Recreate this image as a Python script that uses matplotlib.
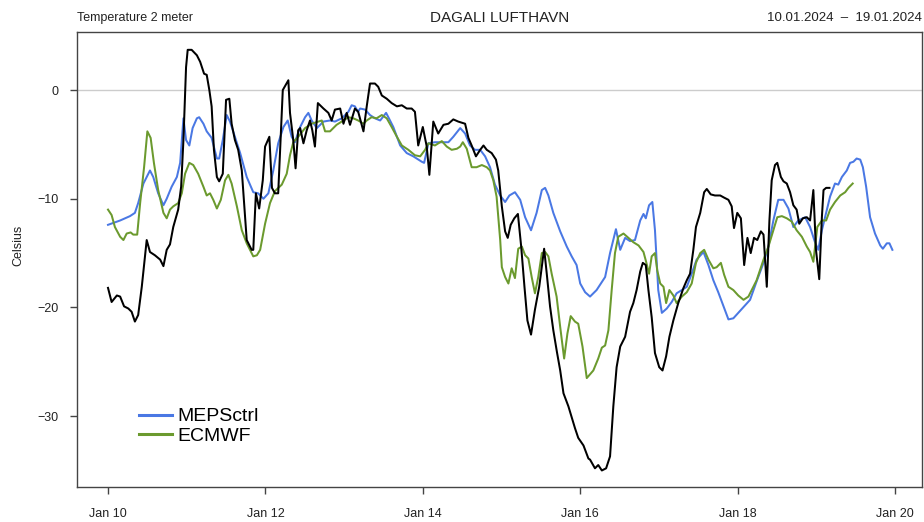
import matplotlib
matplotlib.use("Agg")
import matplotlib.pyplot as plt

plt.rcParams['font.family'] = ['Liberation Sans', 'DejaVu Sans']

# Hours since 10.01.2024 00:00 and temperatures (Celsius)
obs_hours = [0, 1.1, 2.7, 3.7, 4.9, 6.2, 7.2, 8.2, 9.2, 10.3, 11.8, 12.8, 14.3, 15.9, 16.9, 17.9,
             18.9, 19.9, 21.4, 22.3, 23.0, 23.8, 24.3, 25.5, 27.1, 28.1, 29.3, 30.1, 30.9, 31.6,
             32.3, 33.2, 33.9, 35.0, 36.0, 37.0, 37.7, 38.7, 39.7, 40.8, 42.3, 43.8, 44.3, 45.1,
             46.1, 47.2, 47.9, 49.2, 50.0, 50.9, 51.9, 53.3, 55.0, 55.5, 56.5, 57.2, 58.0, 58.6,
             59.6, 60.6, 61.6, 62.3, 63.1, 64.0, 65.7, 67.2, 68.2, 69.2, 70.8, 71.8, 72.8, 73.8,
             75.3, 76.3, 77.9, 78.9, 79.9, 81.4, 82.4, 83.5, 85.0, 86.5, 88.1, 89.6, 91.1, 92.6,
             93.6, 94.6, 96.0, 97.2, 98.0, 99.2, 100.7, 102.3, 103.8, 105.3, 106.8, 108.9, 109.9,
             110.9, 112.2, 113.5, 114.5, 115.5, 117.0, 118.3, 119.0, 120.1, 121.1, 121.9, 122.8,
             123.9, 125.0, 126.0, 127.0, 127.9, 129.0, 130.2, 131.5, 133.0, 133.8, 134.8, 135.8,
             136.9, 137.9, 138.9, 140.4, 141.4, 142.4, 143.4, 145.0, 146.5, 147.0, 148.5, 149.5,
             150.6, 151.9, 153.1, 154.1, 155.1, 156.2, 157.7, 159.2, 160.2, 161.2, 162.3, 163.1,
             164.0, 164.8, 165.8, 166.8, 168.1, 169.1, 170.2, 171.2, 172.4, 173.9, 175.5, 176.5,
             177.5, 178.5, 179.3, 180.6, 181.8, 182.6, 183.8, 185.1, 186.7, 187.9, 189.2, 190.2,
             190.9, 191.9, 193.0, 194.0, 195.0, 196.0, 197.0, 198.0, 199.1, 199.9, 200.9, 201.7,
             202.4, 203.4, 204.1, 205.2, 206.0, 207.0, 208.0, 209.0, 210.0, 210.8, 211.9, 213.1,
             214.1, 215.1, 215.9, 216.9, 217.7, 218.2, 219.0, 220.0]
obs_temp = [-18.2, -19.5, -18.9, -19.0, -19.9, -20.1, -20.4, -21.3, -20.7, -18.1, -13.8, -14.9,
            -15.2, -15.6, -16.2, -14.7, -14.2, -12.6, -11.0, -8.9, -4.6, 2.1, 3.7, 3.7, 3.2, 2.6,
            1.5, 1.4, 0.0, -1.5, -5.5, -8.0, -8.4, -7.7, -0.9, -0.8, -3.1, -4.6, -5.5, -7.4, -13.8,
            -14.7, -14.7, -9.5, -10.9, -8.3, -5.2, -4.3, -9.0, -9.5, -9.5, 0.0, 0.9, -2.1, -4.6,
            -7.2, -3.7, -3.5, -4.9, -3.7, -2.8, -3.7, -5.2, -1.2, -1.7, -2.1, -2.8, -1.8, -1.7,
            -3.1, -2.1, -3.2, -1.7, -2.0, -3.8, -1.5, 0.6, 0.6, 0.3, -0.5, -0.8, -1.2, -1.5, -1.4,
            -1.7, -1.7, -2.0, -5.1, -3.4, -5.2, -7.8, -2.9, -4.0, -3.2, -3.1, -2.7, -2.9, -3.1,
            -4.4, -5.1, -6.1, -5.5, -5.1, -5.5, -5.8, -6.4, -7.4, -10.7, -13.0, -13.6, -12.4,
            -11.8, -11.4, -14.4, -18.1, -21.2, -22.5, -20.2, -18.1, -14.6, -16.9, -19.9, -22.1,
            -24.1, -25.8, -27.9, -29.1, -30.1, -31.1, -32.0, -32.7, -33.9, -34.0, -34.8, -34.5,
            -35.0, -34.8, -33.7, -29.1, -25.5, -23.6, -22.7, -20.4, -19.6, -18.4, -16.7, -15.9,
            -16.1, -18.4, -20.9, -24.2, -25.5, -25.8, -24.5, -22.7, -21.2, -19.6, -18.2, -17.5,
            -16.9, -14.7, -12.6, -11.3, -9.4, -9.1, -9.6, -9.7, -9.7, -9.9, -10.1, -10.7, -12.7,
            -11.3, -11.8, -16.1, -13.6, -15.0, -13.6, -13.8, -13.0, -13.3, -18.1, -12.0, -8.3,
            -6.9, -6.7, -8.0, -8.4, -8.6, -9.4, -10.6, -11.0, -12.3, -11.8, -11.7, -12.0, -9.2,
            -14.7, -17.4, -11.7, -9.2, -9.0, -9.0]

meps_hours = [0, 3.7, 6.7, 8.2, 9.2, 10.8, 12.8, 13.8, 15.3, 16.9, 17.9, 19.4, 21.0, 22.0, 23.0,
              23.8, 24.8, 25.8, 27.1, 27.8, 29.1, 30.1, 31.6, 33.2, 33.9, 35.0, 36.2, 37.2, 38.7,
              40.3, 42.3, 44.3, 45.8, 47.4, 48.9, 50.4, 51.9, 53.5, 54.8, 56.0, 57.0, 58.6, 60.1,
              61.1, 62.1, 63.7, 65.7, 67.7, 69.2, 71.3, 73.3, 74.3, 75.3, 76.2, 76.9, 78.4, 79.9,
              81.4, 83.0, 84.8, 85.5, 87.0, 89.1, 91.1, 93.1, 95.7, 96.4, 97.7, 99.7, 103.8, 105.3,
              107.4, 108.9, 110.4, 111.9, 113.5, 115.0, 116.5, 118.0, 119.6, 121.1, 122.4, 124.1,
              125.7, 127.2, 129.0, 130.7, 132.3, 133.3, 134.3, 135.8, 137.9, 139.9, 141.4, 142.9,
              144.0, 145.5, 147.0, 149.0, 151.6, 153.1, 154.9, 156.2, 157.7, 159.2, 160.7, 162.3,
              163.3, 164.0, 165.0, 166.0, 166.8, 167.8, 168.9, 170.4, 171.9, 173.4, 175.0, 176.5,
              178.0, 179.5, 181.6, 183.1, 184.6, 186.1, 187.7, 189.2, 190.7, 192.2, 194.3, 195.8,
              197.8, 199.9, 201.4, 202.9, 204.4, 206.0, 207.5, 209.0, 210.5, 212.6, 214.1, 215.6,
              216.6, 217.7, 219.0, 220.2, 221.7, 222.7, 223.8, 225.3, 226.3, 227.3, 228.3, 229.4,
              230.2, 231.2, 232.4, 233.9, 235.5, 236.3, 237.5, 238.3, 239.2]
meps_temp = [-12.4, -12.0, -11.6, -11.3, -10.4, -8.6, -7.4, -8.0, -9.5, -10.6, -10.0, -8.9, -8.0,
             -6.7, -2.6, -4.6, -5.1, -3.5, -2.6, -2.5, -3.1, -3.8, -4.4, -6.3, -6.3, -4.6, -2.3,
             -2.9, -4.3, -5.8, -8.0, -9.4, -9.5, -10.0, -9.5, -7.4, -4.9, -3.4, -2.8, -4.3, -4.8,
             -3.4, -2.5, -2.1, -2.8, -3.5, -2.9, -2.8, -2.9, -2.6, -2.0, -1.4, -1.5, -2.0, -1.7,
             -1.8, -2.3, -2.6, -2.8, -2.1, -2.5, -3.4, -5.1, -5.8, -6.1, -6.6, -6.7, -4.9, -4.8,
             -4.8, -4.3, -3.5, -4.0, -5.1, -5.5, -5.5, -6.1, -7.1, -8.7, -9.7, -10.3, -9.7, -9.4,
             -10.1, -11.7, -12.9, -11.3, -9.2, -9.0, -9.7, -11.3, -13.0, -14.4, -15.3, -16.1,
             -17.8, -18.6, -19.0, -18.4, -17.2, -15.0, -12.8, -14.7, -13.6, -13.9, -13.8, -12.0,
             -11.4, -11.8, -10.6, -10.3, -12.9, -18.4, -20.5, -20.1, -19.5, -18.7, -18.4, -18.1,
             -16.9, -15.6, -14.9, -16.1, -17.5, -18.6, -19.9, -21.1, -21.0, -20.5, -19.8, -19.3,
             -17.6, -15.9, -14.4, -12.0, -10.1, -10.1, -10.9, -12.6, -12.0, -11.7, -12.6, -14.0,
             -14.7, -12.9, -11.3, -9.8, -8.6, -8.7, -8.0, -7.4, -6.7, -6.6, -6.3, -6.4, -7.1,
             -8.9, -11.7, -13.2, -14.3, -14.6, -14.1, -14.1, -14.7]

ec_hours = [0, 1.1, 2.1, 3.7, 4.7, 5.7, 6.9, 7.7, 8.9, 9.8, 11.0, 12.0, 13.0, 14.0, 15.3, 16.9,
            17.9, 18.9, 19.9, 21.4, 22.5, 23.5, 24.8, 26.0, 27.5, 29.1, 30.1, 31.1, 32.1, 33.2,
            34.4, 35.7, 36.7, 37.7, 39.3, 40.8, 42.3, 44.3, 45.4, 46.4, 47.9, 49.4, 50.9, 53.0,
            54.5, 55.5, 56.5, 58.0, 60.1, 62.1, 64.1, 65.2, 66.2, 67.7, 69.7, 71.8, 73.3, 74.8,
            76.3, 77.9, 78.9, 80.4, 81.9, 83.5, 85.0, 86.5, 88.1, 89.6, 91.6, 93.6, 95.2, 96.7,
            97.7, 99.7, 101.8, 103.3, 104.8, 106.4, 107.4, 108.2, 109.4, 110.9, 112.4, 114.0,
            115.5, 116.5, 117.5, 118.5, 119.6, 120.1, 121.1, 122.1, 123.1, 124.1, 125.1, 126.2,
            127.2, 128.2, 129.2, 130.2, 131.2, 132.3, 133.3, 134.3, 135.3, 136.8, 137.9, 139.1,
            140.1, 141.1, 142.4, 143.4, 144.7, 146.0, 148.0, 149.5, 150.6, 151.6, 152.6, 153.6,
            154.6, 155.6, 157.2, 158.7, 160.2, 161.8, 163.3, 164.1, 165.0, 165.8, 166.8, 167.5,
            168.4, 169.4, 170.2, 171.2, 172.4, 173.4, 175.0, 176.5, 178.0, 179.3, 180.6, 181.8,
            183.1, 184.6, 185.6, 186.9, 187.9, 189.2, 190.7, 192.2, 193.8, 195.3, 197.8, 199.9,
            201.4, 202.9, 204.1, 205.5, 207.0, 208.5, 210.0, 211.6, 213.1, 214.1, 215.1, 216.3,
            217.7, 219.0, 220.2, 221.7, 223.3, 224.8, 225.8, 227.1]
ec_temp = [-11.0, -11.5, -12.6, -13.5, -13.8, -13.2, -13.1, -13.3, -13.3, -10.4, -7.1, -3.8,
           -4.4, -6.7, -9.2, -11.3, -11.8, -11.0, -10.7, -10.4, -9.5, -7.7, -6.7, -6.9, -7.7,
           -8.9, -9.7, -9.5, -10.1, -10.9, -10.1, -8.3, -7.8, -8.6, -10.7, -12.9, -14.1, -15.3,
           -15.2, -14.7, -12.3, -10.4, -9.3, -8.7, -7.7, -6.0, -4.8, -4.3, -3.5, -3.1, -2.9,
           -2.8, -3.8, -3.8, -3.2, -2.8, -2.5, -2.6, -2.8, -3.1, -2.8, -2.5, -2.6, -2.3, -2.6,
           -3.4, -4.3, -5.1, -5.5, -6.0, -6.1, -5.5, -4.9, -5.1, -4.7, -5.2, -5.5, -5.4, -5.2,
           -4.8, -5.4, -7.1, -7.1, -6.9, -7.1, -7.4, -8.3, -9.8, -13.8, -16.3, -17.2, -17.8,
           -16.4, -17.3, -14.6, -14.4, -15.2, -15.5, -17.2, -18.7, -17.2, -15.0, -14.9, -15.3,
           -16.9, -19.0, -21.8, -24.7, -22.4, -20.8, -21.3, -21.5, -23.6, -26.5, -25.8, -24.7,
           -23.7, -23.5, -22.1, -18.4, -15.0, -13.5, -13.2, -13.6, -14.0, -14.3, -14.9, -15.8,
           -16.9, -15.3, -15.0, -16.6, -17.8, -18.1, -19.6, -18.4, -18.9, -19.6, -19.0, -18.6,
           -17.8, -15.9, -15.0, -14.7, -15.6, -16.4, -16.3, -15.9, -17.0, -18.1, -18.4, -18.9,
           -19.3, -19.0, -17.5, -15.6, -14.4, -12.9, -11.7, -11.6, -11.8, -12.1, -12.9, -13.5,
           -14.4, -14.9, -15.8, -12.6, -12.0, -12.0, -11.0, -10.3, -9.7, -9.4, -9.0, -8.6]

tick_days = [0, 2, 4, 6, 8, 10]
tick_labels = ["Jan 10", "Jan 12", "Jan 14", "Jan 16", "Jan 18", "Jan 20"]
y_ticks = [0, -10, -20, -30]
series_names = ["MEPSctrl", "ECMWF"]
title = "DAGALI LUFTHAVN"
left_title = "Temperature 2 meter"
right_title = "10.01.2024  \u2013  19.01.2024"

blue = "#4a78e4"
green = "#6b9a2e"

fig = plt.figure(figsize=(9.24, 5.22), dpi=100)
W, H = 924, 522
ax = fig.add_axes([77 / W, (H - 487) / H, (922 - 77) / W, (487 - 32) / H])

ax.axhline(0, color="#cccccc", lw=1.0, zorder=1)
ax.plot([h / 24 for h in meps_hours], meps_temp, color=blue, lw=1.45, zorder=3,
        label=series_names[0])
ax.plot([h / 24 for h in ec_hours], ec_temp, color=green, lw=1.45, zorder=3,
        label=series_names[1])
ax.plot([h / 24 for h in obs_hours], obs_temp, color="black", lw=1.45, zorder=4)

ax.set_xlim(-0.394, 10.343)
ax.set_ylim(-36.52, 5.34)

ax.set_xticks(tick_days)
ax.set_xticklabels(tick_labels)
ax.set_yticks(y_ticks)
ax.set_yticklabels([str(v).replace("-", "\u2212") for v in y_ticks])
ax.tick_params(axis="both", direction="out", length=5, width=1, color="#444444",
               labelcolor="#222222", labelsize=9)
ax.tick_params(axis="x", pad=10)
ax.tick_params(axis="y", pad=8)
for s in ax.spines.values():
    s.set_color("#444444")
    s.set_linewidth(1.0)

fig.text(18 / W, 1 - 245 / H, "Celsius", rotation=90, ha="center", va="center",
         fontsize=9, color="#222222")

fig.text(499.5 / W, 1 - 18 / H, title, ha="center", va="center", fontsize=11, color="#222222")
fig.text(77 / W, 1 - 18 / H, left_title, ha="left", va="center", fontsize=9, color="#222222")
fig.text(922 / W, 1 - 18 / H, right_title, ha="right", va="center", fontsize=9.5,
         color="#222222")

leg = ax.legend(loc="upper left", bbox_to_anchor=((129 - 77) / 845, (487 - 398) / 455),
                frameon=False, fontsize=14, handlelength=1.7, handletextpad=0.3,
                labelspacing=0.1, borderpad=0.0)
for line in leg.get_lines():
    line.set_linewidth(2.2)

fig.savefig("out.png", dpi=100)
